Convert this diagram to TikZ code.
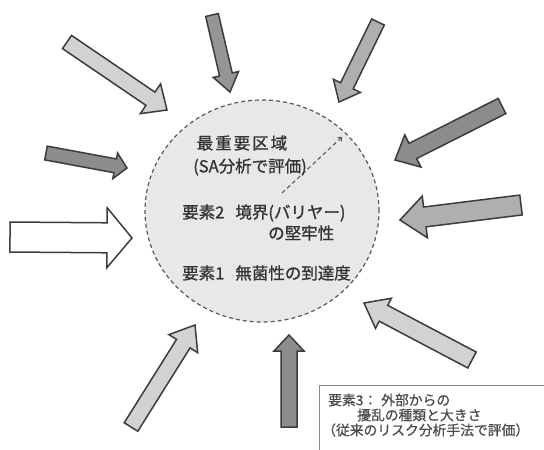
\documentclass[tikz,border=0pt]{standalone}
\usepackage{fontspec}
\setmainfont{Noto Sans CJK JP}
\newfontfamily\jpb{Noto Sans CJK JP}[FakeBold=0.9]
\newfontfamily\jpm{Noto Sans CJK JP}[FakeBold=0.6]
\usetikzlibrary{calc,arrows.meta,shapes.geometric}
\definecolor{edgec}{HTML}{3C3C3C}
\definecolor{txt}{HTML}{333333}
\definecolor{boxtxt}{HTML}{4A4A4A}
\definecolor{zonefill}{HTML}{E8E8E8}
\definecolor{fLight}{HTML}{D2D2D2}
\definecolor{fMid}{HTML}{AFAFAF}
\definecolor{fDark}{HTML}{8C8C8C}
% name, tail, tip, half body, half head, head length, style
\newcommand\fatarrow[7]{%
  \coordinate (#1-t) at #2;
  \coordinate (#1-h) at #3;
  \coordinate (#1-c) at ($(#1-h)!#6!(#1-t)$);
  \draw[#7] ($(#1-t)!#4!90:(#1-h)$) -- ($(#1-c)!#4!90:(#1-h)$) -- ($(#1-c)!#5!90:(#1-h)$) -- (#1-h)
    -- ($(#1-c)!#5!-90:(#1-h)$) -- ($(#1-c)!#4!-90:(#1-h)$) -- ($(#1-t)!#4!-90:(#1-h)$) -- cycle;}
\tikzset{
  fat/.style={draw=edgec, line width=1.5pt, line join=miter, fill=#1},
  maintext/.style={text=txt, font=\jpb\fontsize{16.5}{19}\selectfont, inner sep=0pt},
  boxtext/.style={text=boxtxt, font=\jpm\fontsize{13.8}{15}\selectfont, inner sep=0pt, anchor=west},
}
\begin{document}
\begin{tikzpicture}[x=1pt,y=-1pt]
\useasboundingbox (0,0) rectangle (544,450);
\fill[white] (0,0) rectangle (544,450);
% zone
\node[ellipse, draw=edgec!85, fill=zonefill, dash pattern=on 4pt off 3pt, line width=1.2pt,
      minimum width=234pt, minimum height=222pt, inner sep=0pt] (zone) at (262,211) {};
% dashed radius line
\coordinate (rs) at (282,193);
\coordinate (re) at (342,137);
\draw[edgec!85, dash pattern=on 4pt off 3pt, line width=1.1pt, -{To[length=4pt,width=6pt]}] (rs) -- (re);
% texts
\node[maintext] (t1) at (242,143) {最\hspace{2pt}重\hspace{2pt}要\hspace{2pt}区\hspace{2pt}域};
\node[maintext] (t2) at (250,167) {(SA分析で評価)};
\node[maintext, anchor=west] (t3) at (182,213) {要素2\hspace{11pt}境界(バリヤー)};
\node[maintext, anchor=west] (t4) at (268,233) {の堅牢性};
\node[maintext, anchor=west] (t5) at (182,273) {要素1\hspace{11pt}無菌性の到達度};
% arrows
\fatarrow{a1}{(67,42)}{(167,110)}{8pt}{18pt}{20pt}{fat=fLight}
\fatarrow{a2}{(212,15)}{(230,92)}{6.5pt}{13pt}{18pt}{fat=fMid!85!black}
\fatarrow{a3}{(378,22)}{(339,102)}{7pt}{15pt}{18pt}{fat=fMid}
\fatarrow{a4}{(502,106)}{(395,160)}{8.5pt}{18pt}{20pt}{fat=fDark}
\fatarrow{a5}{(521,205)}{(400,220)}{10pt}{21pt}{25pt}{fat=fMid}
\fatarrow{a6}{(472,360)}{(364,303)}{9pt}{17pt}{22pt}{fat=fLight}
\fatarrow{a7}{(289,427)}{(289,335)}{8pt}{15pt}{16pt}{fat=fMid!80!black}
\fatarrow{a8}{(131,427)}{(195,325)}{8pt}{17pt}{22pt}{fat=fLight}
\fatarrow{a9}{(10,237)}{(132,238)}{15pt}{30pt}{25pt}{fat=white}
\fatarrow{a10}{(46,153)}{(127,168)}{7pt}{13pt}{12pt}{fat=fDark}
% legend box
\begin{scope}
\clip (0,0) rectangle (544,450);
\coordinate (bx1) at (319,385);
\coordinate (bx2) at (560,470);
\draw[edgec!60, line width=1pt] (bx1) rectangle (bx2);
\end{scope}
\node[boxtext] (b1) at (328,400) {要素3：\hspace{4pt}外部からの};
\node[boxtext] (b2) at (357,415) {擾乱の種類と大きさ};
\node[boxtext] (b3) at (322,430) {（従来のリスク分析手法で評価）};
\end{tikzpicture}
\end{document}
